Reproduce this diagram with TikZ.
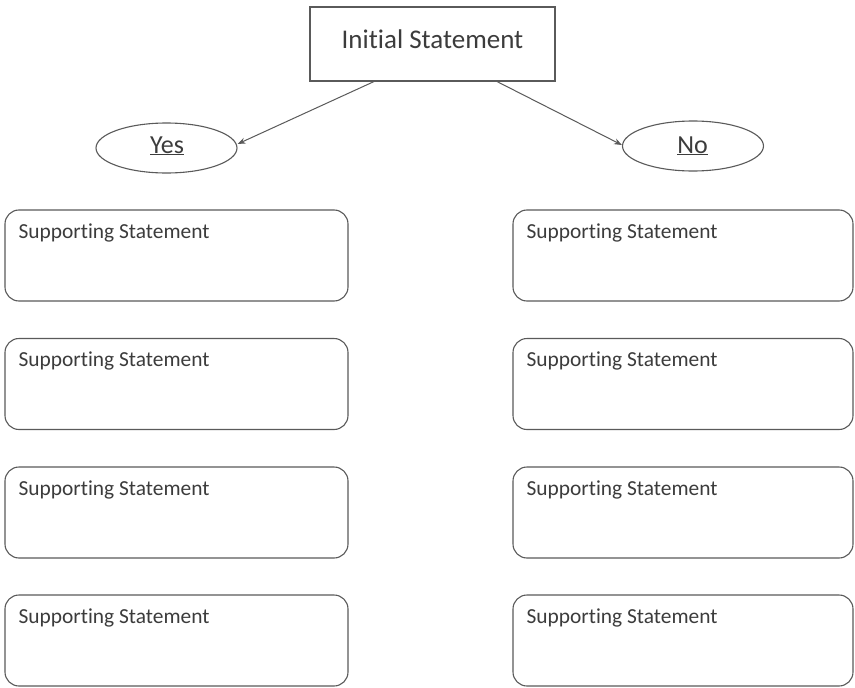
\documentclass[tikz,border=0pt]{standalone}
\usepackage{fontspec}
\setmainfont{Carlito}[Ligatures={NoCommon}]
\usetikzlibrary{arrows.meta,shapes.geometric}
\definecolor{linec}{HTML}{5A5A5A}
\definecolor{textc}{HTML}{3C3C3C}
\tikzset{
  sbox/.style={draw=linec, line width=1.1pt, rounded corners=14pt, minimum height=91pt, inner sep=0pt},
  stext/.style={anchor=base west, inner sep=0pt, text=textc, font=\fontsize{21.4}{25}\selectfont},
  initbox/.style={draw=linec, line width=1.1pt, minimum width=245pt, minimum height=74pt, inner sep=0pt},
  ans/.style={draw=linec, line width=1.1pt, ellipse, minimum width=141pt, minimum height=50pt, inner sep=0pt},
  anstext/.style={anchor=base, inner sep=0pt, text=textc, font=\fontsize{26}{30}\selectfont},
  conn/.style={draw=linec, line width=1pt, -{Stealth[length=8pt,width=6pt]}}
}
\begin{document}
\begin{tikzpicture}[x=1pt,y=1pt]
\useasboundingbox[fill=white] (0,0) rectangle (855,-688);
% initial statement
\node[initbox] (init) at (432.5,-44) {};
\node[anstext, font=\fontsize{27}{31}\selectfont] (inittext) at (432.5,-48) {Initial Statement};
% answers
\node[ans] (yes) at (166.5,-148) {};
\node[anstext] (yestext) at (167,-153) {\underline{Yes}};
\node[ans] (no) at (693,-146) {};
\node[anstext] (notext) at (692.5,-153) {\underline{No}};
% connectors
\coordinate (a1) at ([xshift=-58.5pt]init.south);
\coordinate (a2) at ([xshift=64.5pt]init.south);
\draw[conn] (a1) -- ([yshift=4pt]yes.east);
\draw[conn] (a2) -- ([yshift=1pt]no.west);
% boxes
\foreach \i/\y in {1/255.5,2/384,3/512.5,4/640.5}{
  \node[sbox, minimum width=343pt] (l\i) at (176.5,-\y) {};
  \node[stext] (lt\i) at ([xshift=14pt,yshift=-29pt]l\i.north west) {Supporting Statement};
  \node[sbox, minimum width=340pt] (r\i) at (683,-\y) {};
  \node[stext] (rt\i) at ([xshift=14pt,yshift=-29pt]r\i.north west) {Supporting Statement};
}
\end{tikzpicture}
\end{document}
